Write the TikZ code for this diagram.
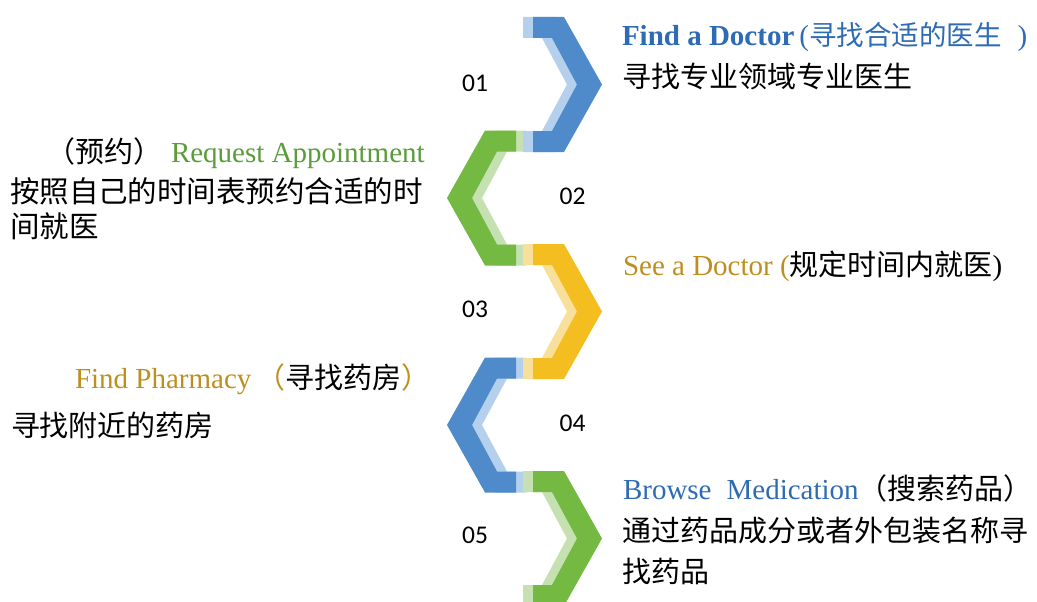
\documentclass[tikz,border=0pt]{standalone}
\usepackage{fontspec}
\setmainfont{Liberation Serif}
\newfontfamily\cjk{Noto Sans CJK SC}
\newfontfamily\numfont{Carlito}
\definecolor{bdark}{HTML}{4F8BCB}
\definecolor{blight}{HTML}{B5D0EC}
\definecolor{gdark}{HTML}{74B942}
\definecolor{glight}{HTML}{C6E1B1}
\definecolor{ydark}{HTML}{F5BE20}
\definecolor{ylight}{HTML}{F9E09A}
\definecolor{tblue}{HTML}{2E6BB5}
\definecolor{tgreen}{HTML}{5A9C38}
\definecolor{tgold}{HTML}{BE8F1E}
% right-pointing chevron: #1 top y, #2 dark colour, #3 light colour
\newcommand\chevR[3]{%
  \begin{scope}[shift={(0,#1)}]
    \fill[#3] (523,0)--(554,0)--(592,67.5)--(554,135)--(523,135)--(523,114)--(542,114)--(567,67.5)--(542,21)--(523,21)--cycle;
    \fill[#2] (533,0)--(564,0)--(602,67.5)--(564,135)--(533,135)--(533,114)--(552,114)--(577,67.5)--(552,21)--(533,21)--cycle;
  \end{scope}}
% left-pointing chevron
\newcommand\chevL[3]{%
  \begin{scope}[shift={(0,#1)}]
    \fill[#3] (526,0)--(495,0)--(457,67.5)--(495,135)--(526,135)--(526,114)--(507,114)--(482,67.5)--(507,21)--(526,21)--cycle;
    \fill[#2] (516,0)--(485,0)--(447,67.5)--(485,135)--(516,135)--(516,114)--(497,114)--(472,67.5)--(497,21)--(516,21)--cycle;
  \end{scope}}
\begin{document}
\begin{tikzpicture}[x=1pt,y=-1pt,
  every node/.style={inner sep=0pt, outer sep=0pt},
  num/.style={font=\numfont\fontsize{25.5}{30}\selectfont, anchor=center},
  head/.style={anchor=base west, font=\fontsize{29}{35}\selectfont},
  body/.style={anchor=base west, font=\cjk\fontsize{29}{35}\selectfont}]
\useasboundingbox (0,0) rectangle (1037,602);
\clip (0,0) rectangle (1037,602);
\fill[white] (0,0) rectangle (1037,602);
% chevrons
\chevL{130.5}{gdark}{glight}
\chevL{357.5}{bdark}{blight}
\chevR{17}{bdark}{blight}
\chevR{244}{ydark}{ylight}
\chevR{471}{gdark}{glight}
% numbers
\node[num] (n1) at (475,83.5) {01};
\node[num] (n2) at (572.5,196.5) {02};
\node[num] (n3) at (475,309) {03};
\node[num] (n4) at (572.5,423.5) {04};
\node[num] (n5) at (475,535) {05};
% step 1
\node[head] (h1) at (622,46) {{\bfseries\color{tblue}Find a Doctor}\hspace{5pt}{\color{tblue}({\cjk\fontsize{27.5}{32}\selectfont 寻找合适的医生}\hspace{16pt})}};
\node[body] (b1) at (622,88) {寻找专业领域专业医生};
% step 2
\node[head] (h2) at (46,162) {{\cjk （预约）}\hspace{9pt}{\color{tgreen}Request Appointment}};
\node[body, font=\cjk\fontsize{29.5}{35}\selectfont] (b2a) at (10,202) {按照自己的时间表预约合适的时};
\node[body, font=\cjk\fontsize{29.5}{35}\selectfont] (b2b) at (10,237) {间就医};
% step 3
\node[head] (h3) at (623,275) {{\color{tgold}See a Doctor (}{\cjk 规定时间内就医}{)}};
% step 4
\node[head] (h4) at (75,388) {{\color{tgold}Find Pharmacy}\hspace{5pt}{\cjk{\color{tgold}（}寻找药房{\color{tgold}）}}};
\node[body] (b4) at (11,436) {寻找附近的药房};
% step 5
\node[head] (h5) at (623,499) {{\color{tblue}Browse}\hspace{15pt}{\color{tblue}Medication}{\cjk （搜索药品）}};
\node[body] (b5a) at (622,541) {通过药品成分或者外包装名称寻};
\node[body] (b5b) at (622,582) {找药品};
\end{tikzpicture}
\end{document}
